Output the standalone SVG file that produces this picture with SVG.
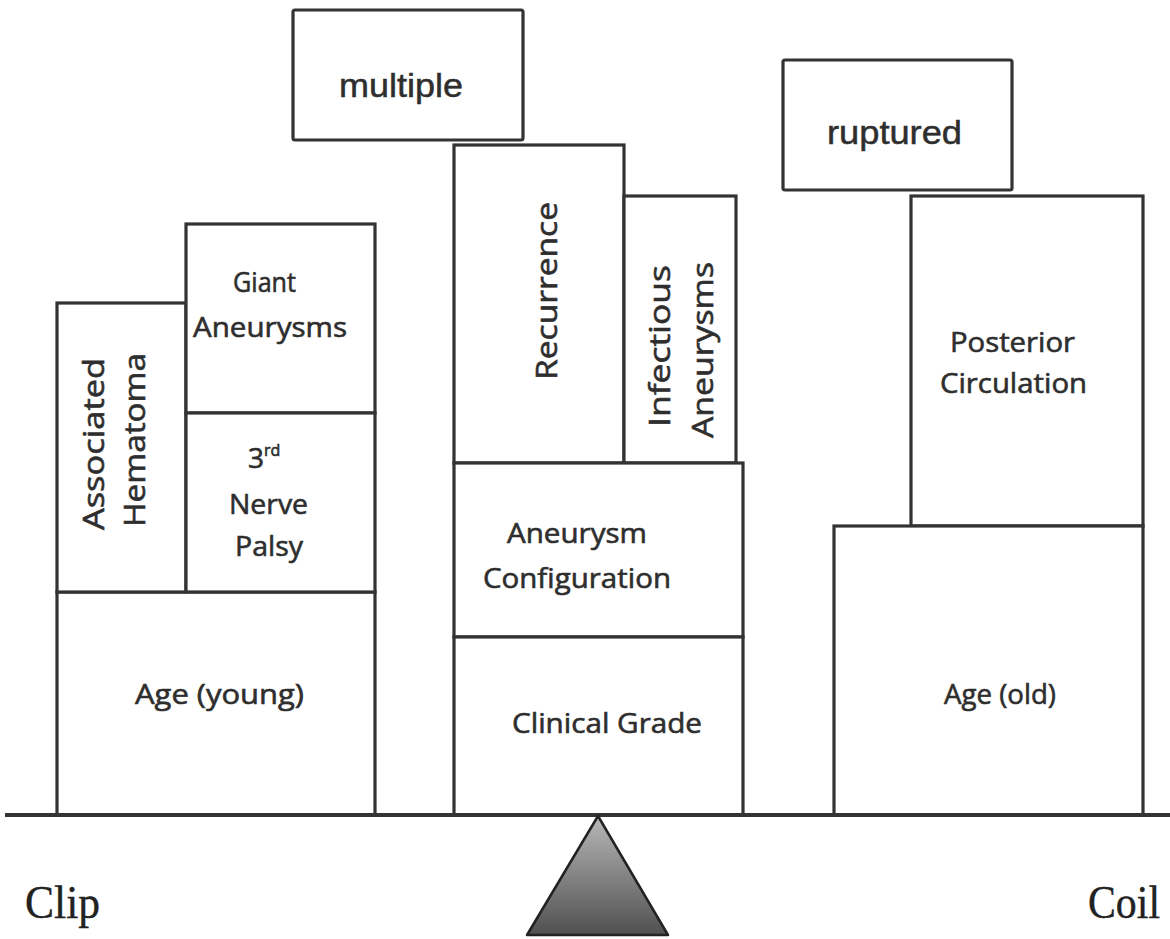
<svg xmlns="http://www.w3.org/2000/svg" width="1170" height="939" viewBox="0 0 1170 939">
<defs>
<style>
.box{fill:#fff;stroke:#333;stroke-width:3.2;}
.lbl{font-family:"Open Sans","Liberation Sans",sans-serif;font-size:28px;fill:#2e2e2e;stroke:#2e2e2e;stroke-width:0.6;text-anchor:middle;}
.rot{font-family:"Open Sans","Liberation Sans",sans-serif;font-size:30px;fill:#2e2e2e;stroke:#2e2e2e;stroke-width:0.6;text-anchor:middle;}
.ar{font-family:"Liberation Sans",Arial,sans-serif;font-size:34px;fill:#2e2e2e;stroke:#2e2e2e;stroke-width:0.5;text-anchor:middle;}
.serif{font-family:"Liberation Serif","Times New Roman",serif;font-size:46px;fill:#222;stroke:#222;stroke-width:0.4;}
</style>
<linearGradient id="tri" x1="0" y1="0" x2="0" y2="1">
<stop offset="0" stop-color="#b8b8b8"/>
<stop offset="1" stop-color="#505050"/>
</linearGradient>
</defs>
<rect width="1170" height="939" fill="#fff"/>

<g id="age-young"><rect class="box" x="57" y="592" width="318" height="223"/><text class="lbl" x="219.5" y="704" textLength="169" lengthAdjust="spacingAndGlyphs">Age (young)</text></g>
<g id="hematoma"><rect class="box" x="57" y="303" width="129" height="289"/>
<text class="rot" transform="translate(104,444) rotate(-90)" textLength="172" lengthAdjust="spacingAndGlyphs">Associated</text>
<text class="rot" transform="translate(145,440) rotate(-90)" textLength="174" lengthAdjust="spacingAndGlyphs">Hematoma</text></g>
<g id="giant"><rect class="box" x="186" y="224" width="189" height="189"/>
<text class="lbl" x="264.5" y="292" textLength="63" lengthAdjust="spacingAndGlyphs">Giant</text>
<text class="lbl" x="270" y="337" textLength="154" lengthAdjust="spacingAndGlyphs">Aneurysms</text></g>
<g id="palsy"><rect class="box" x="186" y="413" width="189" height="179"/>
<text class="lbl" x="248" y="468" style="text-anchor:start">3<tspan dy="-12" font-size="16">rd</tspan></text>
<text class="lbl" x="268.5" y="514" textLength="79" lengthAdjust="spacingAndGlyphs">Nerve</text>
<text class="lbl" x="269" y="556" textLength="68" lengthAdjust="spacingAndGlyphs">Palsy</text></g>

<g id="multiple"><rect class="box" x="293" y="10" width="230" height="130" rx="2"/><text class="ar" x="401" y="97" textLength="124" lengthAdjust="spacingAndGlyphs">multiple</text></g>
<g id="recurrence"><rect class="box" x="454" y="145" width="170" height="318"/><text class="rot" transform="translate(557,291) rotate(-90)" textLength="178" lengthAdjust="spacingAndGlyphs">Recurrence</text></g>
<g id="infectious"><rect class="box" x="624" y="196" width="112" height="267"/>
<text class="rot" transform="translate(670,346) rotate(-90)" textLength="162" lengthAdjust="spacingAndGlyphs">Infectious</text>
<text class="rot" transform="translate(713,350) rotate(-90)" textLength="176" lengthAdjust="spacingAndGlyphs">Aneurysms</text></g>
<g id="configuration"><rect class="box" x="454" y="463" width="289" height="174"/>
<text class="lbl" x="577" y="543" textLength="140" lengthAdjust="spacingAndGlyphs">Aneurysm</text>
<text class="lbl" x="577" y="588" textLength="188" lengthAdjust="spacingAndGlyphs">Configuration</text></g>
<g id="clinical"><rect class="box" x="454" y="637" width="289" height="178"/><text class="lbl" x="607" y="733" textLength="190" lengthAdjust="spacingAndGlyphs">Clinical Grade</text></g>

<g id="ruptured"><rect class="box" x="783" y="60" width="229" height="130" rx="2"/><text class="ar" x="894.5" y="144" textLength="135" lengthAdjust="spacingAndGlyphs">ruptured</text></g>
<g id="posterior"><rect class="box" x="911" y="196" width="232" height="330"/>
<text class="lbl" x="1012.5" y="352" textLength="125" lengthAdjust="spacingAndGlyphs">Posterior</text>
<text class="lbl" x="1013.5" y="393" textLength="147" lengthAdjust="spacingAndGlyphs">Circulation</text></g>
<g id="age-old"><rect class="box" x="834" y="526" width="309" height="289"/><text class="lbl" x="1000" y="704" textLength="112" lengthAdjust="spacingAndGlyphs">Age (old)</text></g>

<g id="connectors">
<line x1="5" y1="815" x2="1170" y2="815" stroke="#333" stroke-width="4"/>
</g>
<g id="fulcrum"><polygon points="598,816 527,935 668,935" fill="url(#tri)" stroke="#222" stroke-width="2.5" stroke-linejoin="round"/></g>
<text class="serif" x="25" y="918" textLength="75" lengthAdjust="spacingAndGlyphs">Clip</text>
<text class="serif" x="1088" y="918" textLength="72" lengthAdjust="spacingAndGlyphs">Coil</text>
</svg>
